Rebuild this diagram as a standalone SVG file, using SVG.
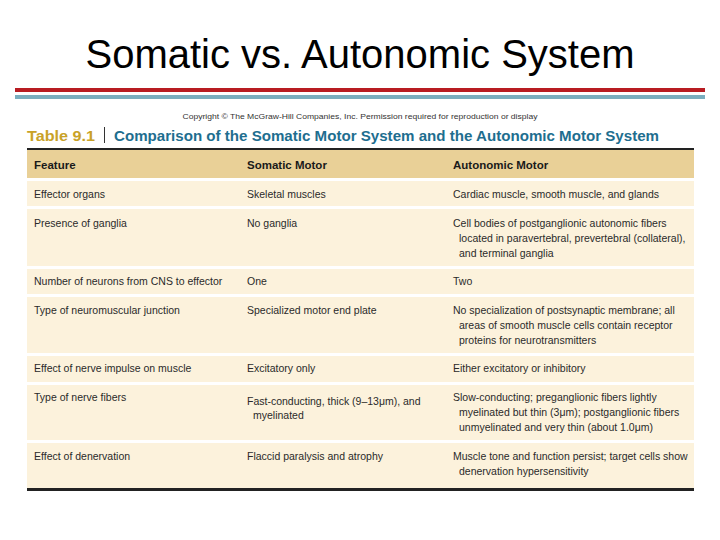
<svg xmlns="http://www.w3.org/2000/svg" width="720" height="540" viewBox="0 0 720 540">
<style>
.t{font-family:"Liberation Sans",Arial,sans-serif;font-size:10.5px;fill:#2a2a2a}
.h{font-family:"Liberation Sans",Arial,sans-serif;font-size:11.5px;font-weight:bold;fill:#1a1a1a}
.r{fill:#fcf2dc}
</style>
<rect width="720" height="540" fill="#fff"/>
<text x="360" y="68" text-anchor="middle" font-family="Liberation Sans,Arial,sans-serif" font-size="40" fill="#000">Somatic vs. Autonomic System</text>
<rect x="15" y="88" width="690" height="4" fill="#b81c22"/>
<rect x="15" y="95" width="690" height="4" fill="#7aaebf"/>
<text x="360" y="119" text-anchor="middle" font-family="Liberation Sans,Arial,sans-serif" font-size="8" fill="#333" textLength="355" lengthAdjust="spacingAndGlyphs">Copyright © The McGraw-Hill Companies, Inc. Permission required for reproduction or display</text>
<text x="27" y="141" font-family="Liberation Sans,Arial,sans-serif" font-size="15" font-weight="bold" fill="#c9a227" textLength="68" lengthAdjust="spacingAndGlyphs">Table 9.1</text>
<rect x="104" y="127" width="1" height="16" fill="#333"/>
<text x="114" y="141" font-family="Liberation Sans,Arial,sans-serif" font-size="15" font-weight="bold" fill="#1e6e8f" textLength="545" lengthAdjust="spacingAndGlyphs">Comparison of the Somatic Motor System and the Autonomic Motor System</text>
<g id="table">
<rect x="27" y="148" width="667" height="2" fill="#222"/>
<rect x="27" y="150" width="667" height="28" fill="#e9d097"/>
<text class="h" x="34" y="169">Feature</text>
<text class="h" x="247" y="169">Somatic Motor</text>
<text class="h" x="453" y="169">Autonomic Motor</text>
<rect class="r" x="27" y="181" width="667" height="25"/>
<rect class="r" x="27" y="209" width="667" height="57"/>
<rect class="r" x="27" y="269" width="667" height="25"/>
<rect class="r" x="27" y="297" width="667" height="56"/>
<rect class="r" x="27" y="356" width="667" height="26"/>
<rect class="r" x="27" y="385" width="667" height="55"/>
<rect class="r" x="27" y="443" width="667" height="45"/>
<rect x="27" y="488" width="667" height="3" fill="#222"/>
</g>
<g id="row1"><text class="t" x="34" y="198">Effector organs</text><text class="t" x="247" y="198">Skeletal muscles</text><text class="t" x="453" y="198">Cardiac muscle, smooth muscle, and glands</text></g>
<g id="row2"><text class="t" x="34" y="227">Presence of ganglia</text><text class="t" x="247" y="227">No ganglia</text><text class="t" x="453" y="227">Cell bodies of postganglionic autonomic fibers</text><text class="t" x="459" y="242">located in paravertebral, prevertebral (collateral),</text><text class="t" x="459" y="257">and terminal ganglia</text></g>
<g id="row3"><text class="t" x="34" y="285">Number of neurons from CNS to effector</text><text class="t" x="247" y="285">One</text><text class="t" x="453" y="285">Two</text></g>
<g id="row4"><text class="t" x="34" y="314">Type of neuromuscular junction</text><text class="t" x="247" y="314">Specialized motor end plate</text><text class="t" x="453" y="314">No specialization of postsynaptic membrane; all</text><text class="t" x="459" y="329">areas of smooth muscle cells contain receptor</text><text class="t" x="459" y="344">proteins for neurotransmitters</text></g>
<g id="row5"><text class="t" x="34" y="372">Effect of nerve impulse on muscle</text><text class="t" x="247" y="372">Excitatory only</text><text class="t" x="453" y="372">Either excitatory or inhibitory</text></g>
<g id="row6"><text class="t" x="34" y="401">Type of nerve fibers</text><text class="t" x="247" y="405">Fast-conducting, thick (9–13μm), and</text><text class="t" x="253" y="419">myelinated</text><text class="t" x="453" y="401">Slow-conducting; preganglionic fibers lightly</text><text class="t" x="459" y="416">myelinated but thin (3μm); postganglionic fibers</text><text class="t" x="459" y="431">unmyelinated and very thin (about 1.0μm)</text></g>
<g id="row7"><text class="t" x="34" y="460">Effect of denervation</text><text class="t" x="247" y="460">Flaccid paralysis and atrophy</text><text class="t" x="453" y="460">Muscle tone and function persist; target cells show</text><text class="t" x="459" y="475">denervation hypersensitivity</text></g>
</svg>
